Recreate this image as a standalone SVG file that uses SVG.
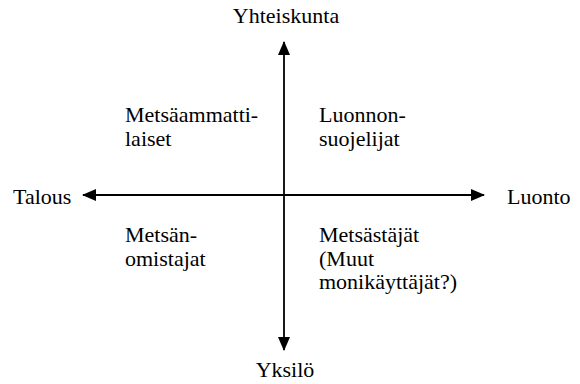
<svg xmlns="http://www.w3.org/2000/svg" width="580" height="384" viewBox="0 0 580 384">
<style>
.ax{stroke:#000;stroke-width:1.8;fill:none}
text{font-family:"Liberation Serif","Times New Roman",serif;font-size:22px;fill:#000}
</style>
<defs>
<marker id="ah" viewBox="0 0 14 12" refX="13" refY="6" markerWidth="14" markerHeight="12" markerUnits="userSpaceOnUse" orient="auto">
<path d="M0,0 L14,6 L0,12 Z" fill="#000"/>
</marker>
</defs>
<rect width="580" height="384" fill="#fff"/>
<g id="connectors">
<line class="ax" x1="284" y1="195" x2="284" y2="42" marker-end="url(#ah)"/>
<line class="ax" x1="284" y1="195" x2="284" y2="350" marker-end="url(#ah)"/>
<line class="ax" x1="284" y1="195" x2="83" y2="195" marker-end="url(#ah)"/>
<line class="ax" x1="284" y1="195" x2="484" y2="195" marker-end="url(#ah)"/>
</g>
<g id="yhteiskunta"><text x="286" y="23" text-anchor="middle">Yhteiskunta</text></g>
<g id="yksilo"><text x="285" y="377" text-anchor="middle">Yksilö</text></g>
<g id="talous"><text x="13" y="204">Talous</text></g>
<g id="luonto"><text x="507" y="204">Luonto</text></g>
<g id="metsaammattilaiset"><text x="125" y="122">Metsäammatti-</text><text x="125" y="145.5">laiset</text></g>
<g id="luonnonsuojelijat"><text x="319" y="122">Luonnon-</text><text x="319" y="145.5">suojelijat</text></g>
<g id="metsanomistajat"><text x="125" y="242">Metsän-</text><text x="125" y="265.5">omistajat</text></g>
<g id="metsastajat"><text x="319" y="242">Metsästäjät</text><text x="319" y="265.5">(Muut</text><text x="319" y="289">monikäyttäjät?)</text></g>
</svg>
